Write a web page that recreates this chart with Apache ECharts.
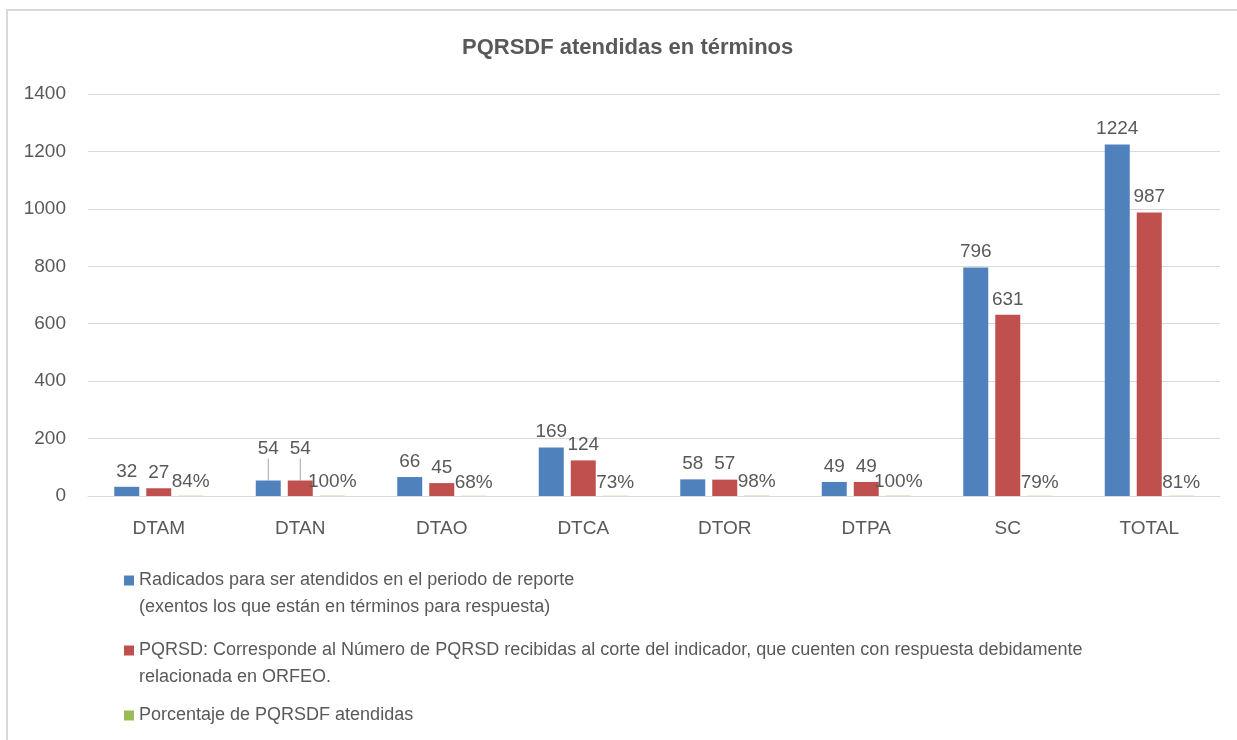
<!DOCTYPE html>
<html>
<head>
<meta charset="utf-8">
<script src="https://cdn.jsdelivr.net/npm/echarts@6/dist/echarts.min.js"></script>
<style>
  html, body { margin: 0; padding: 0; background: #fff; }
  #echart { width: 1237px; height: 740px; }
</style>
</head>
<body>
<div id="echart"></div>
<script>
var categorias = ['DTAM', 'DTAN', 'DTAO', 'DTCA', 'DTOR', 'DTPA', 'SC', 'TOTAL'];
var radicados = [32, 54, 66, 169, 58, 49, 796, 1224];
var atendidas = [27, 54, 45, 124, 57, 49, 631, 987];
var porcentaje = [0.84, 1.00, 0.68, 0.73, 0.98, 1.00, 0.79, 0.81];
var ticksY = [0, 200, 400, 600, 800, 1000, 1200, 1400];

var nombres = [
    'Radicados para ser atendidos en el periodo de reporte\n(exentos los que están en términos para respuesta)',
    'PQRSD: Corresponde al Número de PQRSD recibidas al corte del indicador, que cuenten con respuesta debidamente\nrelacionada en ORFEO.',
    'Porcentaje de PQRSDF atendidas'
];

var fuente = "'Liberation Sans', Arial, sans-serif";
var gris = '#595959';
var idxGuia = 1; // DTAN: etiquetas subidas con linea guia

var dom = document.getElementById('echart');
var myChart = echarts.init(dom);

function conGuia(arr) {
    return arr.map(function (v, i) {
        if (i === idxGuia) {
            return {
                value: v,
                labelLine: { show: true, lineStyle: { color: '#a6a6a6', width: 1 } }
            };
        }
        return v;
    });
}

function subirGuia(params) {
    if (params.dataIndex === idxGuia) {
        return { dy: -16 };
    }
}

var etiqueta = {
    show: true,
    position: 'top',
    distance: 6,
    color: gris,
    fontFamily: fuente,
    fontSize: 19
};

// cuadrito arriba, con un punto invisible abajo para alinear con la primera linea
var iconoDosLineas = 'path://M0,0L10,0L10,10L0,10Z M0,37L0.01,37';

function leyenda(i, top, icono, alto) {
    return {
        data: [nombres[i]],
        left: 124,
        top: top,
        padding: 0,
        orient: 'vertical',
        icon: icono,
        itemWidth: 10,
        itemHeight: alto,
        itemGap: 5,
        selectedMode: false,
        textStyle: {
            color: gris,
            fontFamily: fuente,
            fontSize: 18,
            lineHeight: 27
        }
    };
}

option = {
    backgroundColor: '#fff',
    animation: false,
    title: {
        text: 'PQRSDF atendidas en términos',
        left: 462,
        top: 37,
        padding: 0,
        textStyle: {
            color: gris,
            fontFamily: fuente,
            fontSize: 22,
            fontWeight: 'bold'
        }
    },
    graphic: [{
        type: 'polyline',
        shape: { points: [[7, 760], [7, 10], [1250, 10]] },
        style: { stroke: '#d9d9d9', lineWidth: 2, fill: null },
        silent: true
    }],
    legend: [
        leyenda(0, 567, iconoDosLineas, 37),
        leyenda(1, 637, iconoDosLineas, 37),
        leyenda(2, 702, 'rect', 10)
    ],
    grid: {
        left: 88,
        right: 17,
        top: 94,
        bottom: 244,
        containLabel: false
    },
    xAxis: [{
        type: 'category',
        data: categorias,
        axisTick: { show: false },
        axisLine: { lineStyle: { color: '#d9d9d9', width: 1 } },
        axisLabel: {
            color: gris,
            fontFamily: fuente,
            fontSize: 19,
            margin: 23
        }
    }],
    yAxis: [{
        type: 'value',
        min: ticksY[0],
        max: ticksY[ticksY.length - 1],
        interval: 200,
        axisLine: { show: false },
        axisTick: { show: false },
        splitLine: { lineStyle: { color: '#d9d9d9', width: 1 } },
        axisLabel: {
            color: gris,
            fontFamily: fuente,
            fontSize: 19,
            margin: 22,
            formatter: function (v) { return String(v); }
        }
    }],
    series: [
        {
            name: nombres[0],
            type: 'bar',
            data: conGuia(radicados),
            itemStyle: { color: '#4F81BD' },
            barWidth: 25,
            barGap: '28%',
            label: etiqueta,
            labelLayout: subirGuia
        },
        {
            name: nombres[1],
            type: 'bar',
            data: conGuia(atendidas),
            itemStyle: { color: '#C0504D' },
            barWidth: 25,
            barGap: '28%',
            label: etiqueta,
            labelLayout: subirGuia
        },
        {
            name: nombres[2],
            type: 'bar',
            data: porcentaje,
            itemStyle: { color: '#9BBB59' },
            barWidth: 25,
            barGap: '28%',
            label: Object.assign({}, etiqueta, {
                distance: 4,
                formatter: function (p) {
                    return Math.round(p.value * 100) + '%';
                }
            })
        }
    ]
};

myChart.setOption(option);
window.onresize = myChart.resize;
</script>
</body>
</html>
